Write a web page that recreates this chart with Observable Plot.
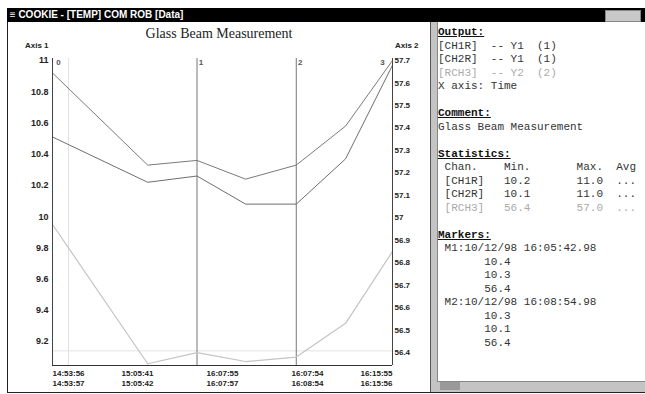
<!DOCTYPE html>
<html><head><meta charset="utf-8">
<script src="https://cdn.jsdelivr.net/npm/d3@7"></script>
<script src="https://cdn.jsdelivr.net/npm/@observablehq/plot@0.6"></script>
<style>
body{margin:0;width:645px;height:394px;overflow:hidden;background:#fff;position:relative;font-family:"Liberation Sans",Arial,sans-serif;}
.abs{position:absolute;}
#frame{left:7px;top:8px;width:637px;height:383px;border:1px solid #222;}
#titlebar{left:7px;top:8px;width:639px;height:14px;background:#000;color:#fff;font:bold 10px "Liberation Sans",Arial,sans-serif;line-height:14px;white-space:pre;}
#btns{right:4px;top:10px;width:34px;height:10px;background:#c8c8c8;border:1px solid #888;}
#ctitle{left:8px;top:26px;width:422px;text-align:center;font:14px "Liberation Serif","Times New Roman",serif;color:#222;}
.axl{font:bold 8px "Liberation Sans",Arial,sans-serif;color:#222;top:41px;}
#chart{left:8px;top:40px;}
#gutter{left:430px;top:22px;width:6px;height:370px;background:#c4c4c4;border-left:1px solid #555;border-right:1px solid #888;}
#panel{left:438px;top:26px;font:11px "Liberation Mono","Courier New",monospace;line-height:13.5px;white-space:pre;color:#333;}
#panel b{text-decoration:underline;color:#111;}
#panel .g{color:#aaa;}
#hscroll{left:437px;top:381px;width:208px;height:10px;background:#c4c4c4;border-top:1px solid #888;}
#thumb{left:440px;top:382px;width:20px;height:8px;background:#999;}
</style></head><body>
<div id="frame" class="abs"></div>
<div id="titlebar" class="abs"> ≡ COOKIE - [TEMP] COM ROB [Data]</div>
<div id="btns" class="abs"></div>
<div id="ctitle" class="abs">Glass Beam Measurement</div>
<div class="abs axl" style="left:25px">Axis 1</div>
<div class="abs axl" style="left:395px">Axis 2</div>
<div id="chart" class="abs"></div>
<div id="gutter" class="abs"></div>
<div id="panel" class="abs"></div>
<div id="hscroll" class="abs"></div>
<div id="thumb" class="abs"></div>
<script>
// ---- data ----
const times = [0, 28, 42.5, 56.8, 71.7, 86.2, 100];
const ch1 = [10.92, 10.33, 10.36, 10.24, 10.33, 10.58, 11.0];
const ch2 = [10.51, 10.22, 10.26, 10.08, 10.08, 10.37, 10.97];
const ch3 = [56.97, 56.35, 56.40, 56.36, 56.38, 56.53, 56.85]; // right axis (Y2)
const markerTimes = [42.5, 71.7];
const markerNames = ["1", "2"];
const leftTicks = [11, 10.8, 10.6, 10.4, 10.2, 10, 9.8, 9.6, 9.4, 9.2];
const rightTicks = [57.7, 57.6, 57.5, 57.4, 57.3, 57.2, 57.1, 57, 56.9, 56.8, 56.7, 56.6, 56.5, 56.4];
const xTicks = [0, 25, 50, 75, 100];
const xTickLabels = ["14:53:56\n14:53:57", "15:05:41\n15:05:42", "16:07:55\n16:07:57", "16:07:54\n16:08:54", "16:15:55\n16:15:56"];
const legendNames = ["[CH1R]", "[CH2R]", "[RCH3]"];
const legendAxes = ["Y1  (1)", "Y1  (1)", "Y2  (2)"];
const statMin = ["10.2", "10.1", "56.4"];
const statMax = ["11.0", "11.0", "57.0"];
const markerStamps = ["M1:10/12/98 16:05:42.98", "M2:10/12/98 16:08:54.98"];
const markerVals = [["10.4", "10.3", "56.4"], ["10.3", "10.1", "56.4"]];

// right axis (Y2) is drawn in the coordinates of the left axis (Y1)
const toLeft = r => 11 + (r - 57.7) * 1.439;

const mk = (vals, name) => times.map((t, i) => ({t, v: vals[i], name}));
const d1 = mk(ch1, "CH1"), d2 = mk(ch2, "CH2"), d3 = mk(ch3.map(toLeft), "CH3");
const yMin = 9.0463, yMax = 11.0128;
const fmtL = d => Number.isInteger(d) ? String(d) : d.toFixed(1);
const rMap = new Map(rightTicks.map(r => [toLeft(r).toFixed(4), Number.isInteger(r) ? String(r) : r.toFixed(1)]));

const plot = Plot.plot({
  width: 422, height: 350,
  marginLeft: 44, marginRight: 38, marginTop: 18, marginBottom: 25,
  x: {domain: [0, 100], axis: null},
  y: {domain: [yMin, yMax], axis: null},
  style: {fontFamily: "Liberation Sans, Arial, sans-serif", fontSize: "9px", fontWeight: "bold", color: "#222", background: "transparent", overflow: "visible"},
  marks: [
    Plot.ruleX([4.7], {stroke: "#e2e2e2"}),
    Plot.ruleY([9.14], {stroke: "#e2e2e2"}),
    Plot.ruleX(markerTimes, {stroke: "#777", strokeWidth: 1}),
    Plot.text(markerTimes, {x: d => d, text: (d, i) => markerNames[i], frameAnchor: "top", dy: 1, dx: 4, lineAnchor: "top", fill: "#555", fontSize: 8}),
    Plot.text([0], {x: d => d, text: ["0"], frameAnchor: "top", dy: 1, dx: 6, lineAnchor: "top", fill: "#555", fontSize: 8}),
    Plot.text([100], {x: d => d, text: ["3"], frameAnchor: "top", dy: 1, dx: -10, lineAnchor: "top", fill: "#555", fontSize: 8}),
    Plot.line(d3, {x: "t", y: "v", stroke: "#c4c4c4", strokeWidth: 1.2}),
    Plot.line(d2, {x: "t", y: "v", stroke: "#6e6e6e", strokeWidth: 1}),
    Plot.line(d1, {x: "t", y: "v", stroke: "#7a7a7a", strokeWidth: 1}),
    Plot.ruleX([0], {stroke: "#444"}),
    Plot.ruleX([100], {stroke: "#444"}),
    Plot.ruleY([yMin], {stroke: "#333"}),
    Plot.axisY(leftTicks, {anchor: "left", tickSize: 0, tickPadding: 4, tickFormat: fmtL, label: null}),
    Plot.axisY(rightTicks.map(toLeft), {anchor: "right", tickSize: 0, tickPadding: 2, fontSize: 8, tickFormat: d => rMap.get(d.toFixed(4)), label: null}),
    Plot.text([xTicks[0]], {x: d => d, text: [xTickLabels[0]], frameAnchor: "bottom", lineAnchor: "top", dy: 4, fontSize: 8, textAnchor: "start", lineHeight: 1.2}),
    Plot.text(xTicks.slice(1, -1), {x: d => d, text: xTickLabels.slice(1, -1), frameAnchor: "bottom", lineAnchor: "top", dy: 4, fontSize: 8, textAnchor: "middle", lineHeight: 1.2}),
    Plot.text([xTicks[4]], {x: d => d, text: [xTickLabels[4]], frameAnchor: "bottom", lineAnchor: "top", dy: 4, fontSize: 8, textAnchor: "end", lineHeight: 1.2})
  ]
});
document.getElementById("chart").appendChild(plot);

// ---- right text panel ----
const p = (s, n) => s.padEnd(n, " ");
const lines = [];
lines.push("<b>Output:</b>");
legendNames.forEach((n, i) => lines.push((i === 2 ? '<span class="g">' : "") + p(n, 8) + "-- " + legendAxes[i] + (i === 2 ? "</span>" : "")));
lines.push("X axis: Time");
lines.push("");
lines.push("<b>Comment:</b>");
lines.push("Glass Beam Measurement");
lines.push("");
lines.push("<b>Statistics:</b>");
lines.push(" " + p("Chan.", 9) + p("Min.", 11) + p("Max.", 6) + "Avg");
legendNames.forEach((n, i) => lines.push((i === 2 ? '<span class="g">' : "") + " " + p(n, 9) + p(statMin[i], 11) + p(statMax[i], 6) + "..." + (i === 2 ? "</span>" : "")));
lines.push("");
lines.push("<b>Markers:</b>");
markerStamps.forEach((s, k) => {
  lines.push(" " + s);
  markerVals[k].forEach(v => lines.push("       " + v));
});
document.getElementById("panel").innerHTML = lines.join("\n");
</script>
</body></html>
